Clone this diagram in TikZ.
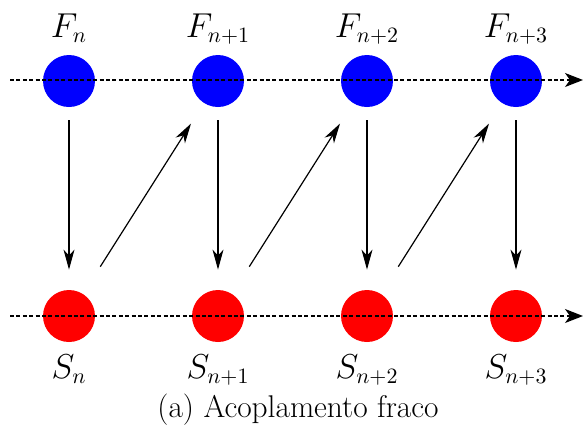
\documentclass[tikz,border=0pt]{standalone}
\usetikzlibrary{arrows.meta}

\tikzset{
  fnode/.style={circle,fill=blue,minimum size=26pt,inner sep=0pt},
  snode/.style={circle,fill=red,minimum size=26pt,inner sep=0pt},
  timeline/.style={line width=0.65pt,dash pattern=on 2pt off 1.2pt,
    -{Stealth[length=9pt,width=7pt,inset=2.5pt]}},
  coupling/.style={line width=0.6pt,-{Stealth[length=10pt,width=5.5pt,inset=3pt]}},
  lbl/.style={font=\fontsize{16}{19}\selectfont,inner sep=0pt,anchor=base}
}

\begin{document}
\begin{tikzpicture}[x=0.5pt,y=-0.5pt,line join=round]
  \useasboundingbox (0,0) rectangle (585,430);

  % fast and slow states
  \foreach \i/\x/\s in {0/69/n,1/218/n+1,2/367/n+2,3/516/n+3}{
    \node[fnode] (F\i) at (\x,81) {};
    \node[snode] (S\i) at (\x,316) {};
    \node[lbl] (fl\i) at (\x,37) {$F_{\s}$};
    \node[lbl] (sl\i) at (\x,378) {$S_{\s}$};
  }

  % time lines
  \coordinate (fa) at (10,80);
  \coordinate (fb) at (583,80);
  \coordinate (sa) at (10,316);
  \coordinate (sb) at (583,316);
  \draw[timeline] (fa) -- (fb);
  \draw[timeline] (sa) -- (sb);

  % coupling
  \foreach \i in {0,1,2,3}
    \draw[coupling,shorten <=6.5pt,shorten >=10pt] (F\i) -- (S\i);
  \foreach \i/\j in {0/1,1/2,2/3}
    \draw[coupling,shorten <=16pt,shorten >=12pt] (S\i) -- (F\j);

  \node[lbl,font=\fontsize{15.7}{19}\selectfont] (cap) at (298,417) {(a) Acoplamento fraco};
\end{tikzpicture}
\end{document}
